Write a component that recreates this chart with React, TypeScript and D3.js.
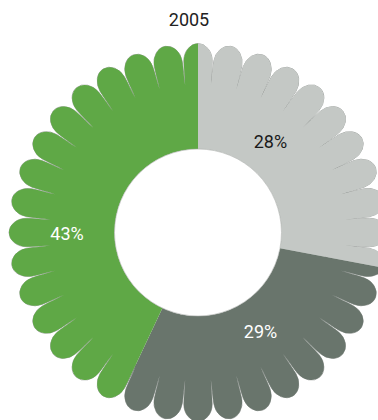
import React from "react";
import * as d3 from "d3";

const title = "2005";
const categories = ["Light", "Dark", "Green"];
const values = [28, 29, 43];
const labels = ["28%", "29%", "43%"];
const colors = ["#c4c8c5", "#69756c", "#5fa846"];
const labelColors = ["#1a1a1a", "#ffffff", "#ffffff"];

const W = 378;
const H = 420;
const cx = 198;
const cy = 232.5;
const innerR = 83.5;
const discR = 148;
const petalCount = 36;
const neckR = 172;
const neckHalfWidth = 14.2;
const tipR = 189;
const labelR = 122;
const labelFrac = 0.415;

function petalPath(): string {
  const half = Math.PI / petalCount;
  const bx = discR * Math.sin(half);
  const by = discR * Math.cos(half);
  const nx = neckHalfWidth;
  const ny = Math.sqrt(neckR * neckR - nx * nx);
  const ry = tipR - ny;
  return (
    `M${-bx},${-by}` +
    `C${-bx},${-(by + 8)} ${-nx},${-(ny - 8)} ${-nx},${-ny}` +
    `A${nx},${ry} 0 0 1 ${nx},${-ny}` +
    `C${nx},${-(ny - 8)} ${bx},${-(by + 8)} ${bx},${-by}` +
    `L0,${-discR + 20}Z`
  );
}

export default function App() {
  const pie = d3.pie<number>().sort(null).value((d) => d);
  const arcs = pie(values);
  const sector = d3.arc<d3.PieArcDatum<number>>().innerRadius(innerR).outerRadius(215);
  const petal = petalPath();
  const petalAngles = d3.range(petalCount).map((i) => (360 / petalCount) * i);
  const font = "Roboto, 'Open Sans', sans-serif";

  return (
    <svg width={W} height={H} style={{ position: "absolute", left: 0, top: 0, background: "#fff" }}>
      <defs>
        <clipPath id="flower">
          <circle cx={0} cy={0} r={discR} />
          {petalAngles.map((ang, i) => (
            <path key={i} d={petal} transform={`rotate(${ang})`} />
          ))}
        </clipPath>
      </defs>
      <text x={W / 2} y={26} textAnchor="middle" fontFamily={font} fontSize={18} fill="#222">
        {title}
      </text>
      <g transform={`translate(${cx},${cy})`}>
        {petalAngles.map((ang, i) => (
          <path key={i} d={petal} transform={`rotate(${ang})`} fill="none" stroke="#9a9e9b" strokeWidth={0.8} />
        ))}
        {arcs.map((a, i) => (
          <path key={categories[i]} d={sector(a) || ""} fill={colors[i]} clipPath="url(#flower)" />
        ))}
        <circle r={innerR} fill="#fff" stroke="#a9aca9" strokeWidth={0.6} />
      </g>
      <g transform={`translate(${W / 2},${cy})`}>
        {arcs.map((a, i) => {
          const ang = a.startAngle + labelFrac * (a.endAngle - a.startAngle);
          const x = labelR * Math.sin(ang);
          const y = -labelR * Math.cos(ang);
          return (
            <text
              key={labels[i]}
              x={x}
              y={y}
              dy="0.36em"
              textAnchor="middle"
              fontFamily={font}
              fontSize={18}
              fill={labelColors[i]}
            >
              {labels[i]}
            </text>
          );
        })}
      </g>
    </svg>
  );
}
